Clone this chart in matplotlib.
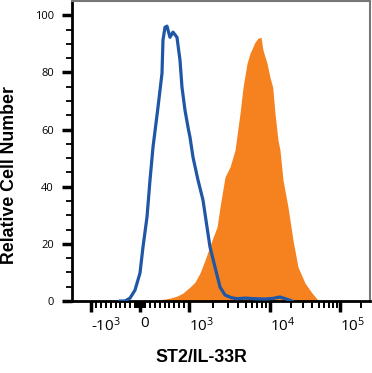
import numpy as np
import matplotlib
matplotlib.use("Agg")
import matplotlib.pyplot as plt
from matplotlib.ticker import FixedLocator, FixedFormatter, NullFormatter

# ---------------- data ----------------
blue_x = [-420, -306, -204, -102, 0, 61, 143, 204, 265, 367, 449, 469, 510, 551, 612, 673,
          755, 776, 816, 857, 918, 980, 1029, 1121, 1292, 1489, 1668, 1816, 2094, 2415,
          2782, 3300, 3914, 4914, 6531, 8670, 11000, 13895, 16500, 20620]
blue_y = [0.0, 0.0, 1.0, 3.8, 9.8, 18.9, 29.4, 42.3, 53.8, 67.8, 79.7, 91.3, 95.8, 96.2,
          92.3, 94.1, 92.3, 89.5, 84.3, 74.8, 66.8, 60.8, 57.3, 50.3, 42.3, 35.3, 25.9,
          18.9, 11.9, 4.9, 2.1, 1.2, 0.8, 1.0, 0.8, 0.7, 0.9, 1.4, 0.8, 0.0]

orange_x = [204, 408, 612, 755, 878, 1029, 1186, 1367, 1576, 1923, 2218, 2415, 2782, 3206,
            3697, 4265, 4645, 5204, 5666, 6531, 7115, 7748, 8199, 9186, 10000, 10936,
            11788, 13000, 13895, 15345, 18075, 21300, 25119, 31623, 39811, 48500, 55300]
orange_y = [0.0, 0.4, 1.0, 1.7, 2.8, 4.9, 6.6, 9.8, 14.3, 21.3, 25.9, 32.9, 43.4, 46.9,
            52.8, 65.7, 74.8, 83.2, 86.7, 90.6, 92.0, 92.3, 87.8, 83.2, 78.3, 74.8,
            65.7, 56.3, 52.8, 42.3, 32.9, 21.3, 11.9, 6.3, 2.8, 0.3, 0.0]

x_major = [-1000, 0, 1000, 10000, 100000]
x_labels = [r'-$\mathregular{10^{3}}$', '0', r'$\mathregular{10^{3}}$',
            r'$\mathregular{10^{4}}$', r'$\mathregular{10^{5}}$']
y_major = [0, 20, 40, 60, 80, 100]
x_label = "ST2/IL-33R"
y_label = "Relative Cell Number"

# ---------------- biexponential-like display scale ----------------
LIN, D1, D2 = 49.0, 81.0, 70.0


def fwd(x):
    x = np.asarray(x, dtype=float)
    a = np.abs(x)
    L = np.log10(np.maximum(a, 1e-12))
    p = np.where(a <= 1000, a / 1000 * LIN,
                 np.where(L <= 4, LIN + (L - 3) * D1, LIN + D1 + (L - 4) * D2))
    return np.sign(x) * p


def inv(p):
    p = np.asarray(p, dtype=float)
    q = np.abs(p)
    x = np.where(q <= LIN, q / LIN * 1000,
                 np.where(q <= LIN + D1, 10 ** (3 + (q - LIN) / D1),
                          10 ** (4 + (q - LIN - D1) / D2)))
    return np.sign(p) * x


plt.rcParams['font.family'] = ['Open Sans', 'DejaVu Sans']

fig = plt.figure(figsize=(3.72, 3.73), dpi=100)
ax = fig.add_axes([72 / 372, 1 - 301 / 373, 298 / 372, 300 / 373])
ax.set_xscale('function', functions=(fwd, inv))

ax.fill_between(orange_x, orange_y, 0, color='#f5821f', linewidth=0, zorder=2)
ax.plot(blue_x, blue_y, color='#1f56a5', linewidth=2.3, zorder=3,
        solid_joinstyle='round', solid_capstyle='round')

ax.set_xlim(float(inv(-68)), float(inv(230)))
ax.set_ylim(0, 105)

# x ticks
minor_x = [-v for v in range(100, 1000, 100)] + list(range(100, 1000, 100))
minor_x += [-80, -60, -40, -20, 20, 40, 60, 80]
minor_x += [m * 10 ** e for e in (3, 4) for m in range(2, 10)] + [200000]
ax.xaxis.set_major_locator(FixedLocator(x_major))
ax.xaxis.set_major_formatter(FixedFormatter(x_labels))
ax.xaxis.set_minor_locator(FixedLocator(minor_x))
ax.xaxis.set_minor_formatter(NullFormatter())
ax.tick_params(axis='x', which='major', length=8, width=2.5, pad=3.0, labelsize=11,
               direction='out', color='black')
ax.tick_params(axis='x', which='minor', length=5, width=1.4, direction='out', color='black')
for lab in ax.get_xticklabels():
    lab.set_horizontalalignment('left')

# y ticks
ax.yaxis.set_major_locator(FixedLocator(y_major))
ax.yaxis.set_minor_locator(FixedLocator([v for v in range(5, 105, 5) if v % 20]))
ax.yaxis.set_minor_formatter(NullFormatter())
ax.tick_params(axis='y', which='major', length=7, width=2.5, pad=6, labelsize=8,
               direction='out', color='black')
ax.tick_params(axis='y', which='minor', length=4, width=1.3, direction='out', color='black')

for s in ('left', 'bottom'):
    ax.spines[s].set_linewidth(2.0)
    ax.spines[s].set_color('black')
for s in ('top', 'right'):
    ax.spines[s].set_linewidth(1.5)
    ax.spines[s].set_color('#777777')

fig.text(201 / 372, 1 - 358 / 373, x_label, ha='center', va='center',
         fontsize=12.8, fontweight='bold', family='Liberation Sans')
fig.text(10 / 372, 1 - 175 / 373, y_label, ha='center', va='center', rotation=90,
         fontsize=12.8, fontweight='bold', family='Liberation Sans')

fig.savefig('out.png', dpi=100)
